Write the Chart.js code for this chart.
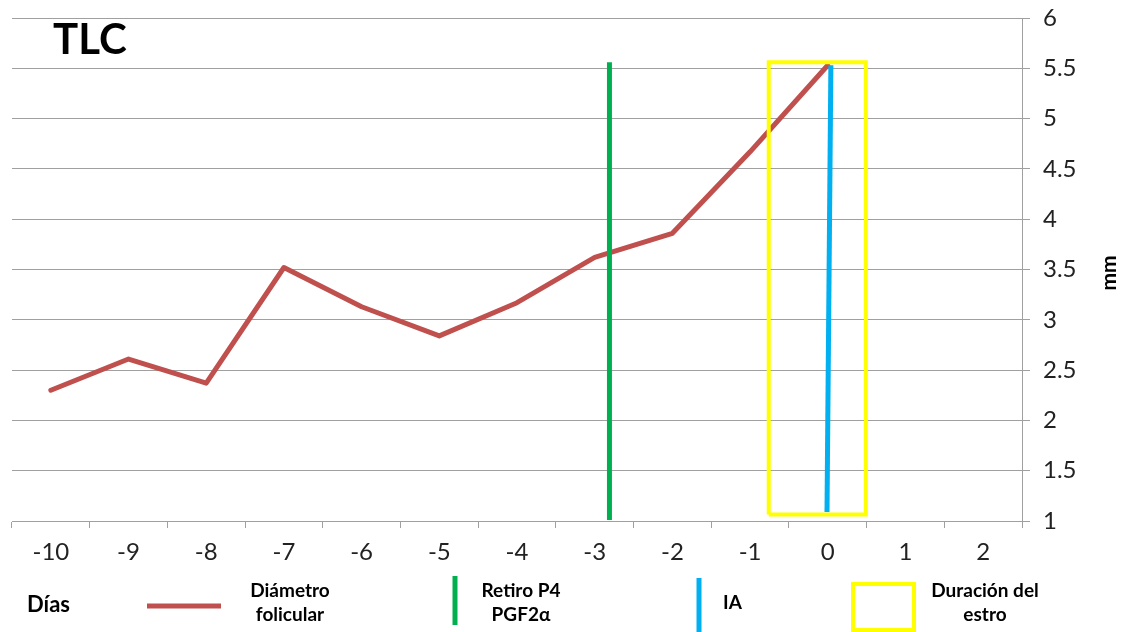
<!DOCTYPE html>
<html>
<head>
<meta charset="utf-8">
<script src="https://cdn.jsdelivr.net/npm/chart.js@4/dist/chart.umd.min.js"></script>
<style>
  html, body { margin: 0; padding: 0; background: #fff; }
  #wrap { width: 1124px; height: 632px; position: relative; }
</style>
</head>
<body>
<div id="wrap"><canvas id="grafico"></canvas></div>
<script>
// datos
const dias = ["-10", "-9", "-8", "-7", "-6", "-5", "-4", "-3", "-2", "-1", "0", "1", "2"];
const diametro = [2.30, 2.61, 2.37, 3.52, 3.13, 2.84, 3.17, 3.62, 3.86, 4.67, 5.53];

// marcas verticales (en dias / mm)
const retiroX = [-2.81, -2.81];
const retiroY = [1.01, 5.56];
const iaX = [-0.01, 0.04];
const iaY = [1.09, 5.53];
const estroX = [-0.76, 0.49, 0.49, -0.76, -0.76];
const estroY = [1.065, 1.065, 5.56, 5.56, 1.065];

const ticksY = [1, 1.5, 2, 2.5, 3, 3.5, 4, 4.5, 5, 5.5, 6];

const titulo = "TLC";
const tituloX = "Días";
const tituloY = "mm";
const leyenda = [["Diámetro", "folicular"], ["Retiro P4", "PGF2α"], ["IA"], ["Duración del", "estro"]];

const FUENTE = 'Lato, "Noto Sans", sans-serif';
const ROJO = "#C0504D";
const VERDE = "#00B050";
const AZUL = "#00B0F0";
const AMARILLO = "#FFFF00";
const GRIS = "#a0a0a0";

const puntos = (xs, ys) => xs.map((x, i) => ({ x: x, y: ys[i] }));

const extras = {
    id: "extras",
    afterDraw(chart) {
        const ctx = chart.ctx;
        ctx.save();
        ctx.fillStyle = "#000";

        // titulo
        ctx.font = "bold 42px " + FUENTE;
        ctx.textAlign = "left";
        ctx.textBaseline = "alphabetic";
        ctx.fillText(titulo, 53, 54);

        // titulo eje y (girado)
        ctx.save();
        ctx.translate(1109, 273);
        ctx.rotate(-Math.PI / 2);
        ctx.font = "bold 21px " + FUENTE;
        ctx.textAlign = "center";
        ctx.textBaseline = "middle";
        ctx.fillText(tituloY, 0, 0);
        ctx.restore();

        // titulo eje x
        ctx.font = "bold 22px " + FUENTE;
        ctx.textAlign = "left";
        ctx.fillText(tituloX, 27, 612);

        // leyenda
        ctx.lineCap = "butt";
        ctx.lineWidth = 5;
        ctx.strokeStyle = ROJO;
        ctx.beginPath(); ctx.moveTo(147, 606); ctx.lineTo(221, 606); ctx.stroke();
        ctx.strokeStyle = VERDE;
        ctx.beginPath(); ctx.moveTo(455, 576); ctx.lineTo(455, 625); ctx.stroke();
        ctx.strokeStyle = AZUL;
        ctx.beginPath(); ctx.moveTo(699, 578); ctx.lineTo(699, 632); ctx.stroke();
        ctx.lineWidth = 4;
        ctx.strokeStyle = AMARILLO;
        ctx.strokeRect(853, 584, 61, 46);

        ctx.font = "bold 19px " + FUENTE;
        ctx.textAlign = "center";
        const centros = [290, 521, 732, 985];
        leyenda.forEach((lineas, i) => {
            if (lineas.length === 1) {
                ctx.textAlign = "left";
                ctx.fillText(lineas[0], 723, 609);
                ctx.textAlign = "center";
            } else {
                ctx.fillText(lineas[0], centros[i], 597);
                ctx.fillText(lineas[1], centros[i], 621);
            }
        });
        ctx.restore();
    }
};

const ctx = document.getElementById("grafico").getContext("2d");
new Chart(ctx, {
    type: "line",
    data: {
        labels: dias,
        datasets: [
            {
                label: "Duración del estro",
                data: puntos(estroX, estroY),
                xAxisID: "x2",
                borderColor: AMARILLO,
                borderWidth: 4,
                pointRadius: 0,
                order: 1
            },
            {
                label: "IA",
                data: puntos(iaX, iaY),
                xAxisID: "x2",
                borderColor: AZUL,
                borderWidth: 5,
                pointRadius: 0,
                order: 2
            },
            {
                label: "Retiro P4 PGF2α",
                data: puntos(retiroX, retiroY),
                xAxisID: "x2",
                borderColor: VERDE,
                borderWidth: 5,
                pointRadius: 0,
                order: 3
            },
            {
                label: "Diámetro folicular",
                data: diametro,
                xAxisID: "x",
                borderColor: ROJO,
                borderWidth: 5,
                borderCapStyle: "round",
                borderJoinStyle: "round",
                pointRadius: 0,
                tension: 0,
                order: 4
            }
        ]
    },
    options: {
        responsive: true,
        maintainAspectRatio: false,
        animation: false,
        layout: { padding: { left: 12, top: 18, right: 0, bottom: 0 } },
        plugins: {
            legend: { display: false },
            tooltip: { enabled: false },
            title: { display: false }
        },
        scales: {
            x: {
                type: "category",
                position: "bottom",
                offset: true,
                grid: { display: true, drawOnChartArea: false, drawTicks: true, tickLength: 7, color: GRIS, offset: true },
                border: { display: true, color: GRIS, width: 1 },
                ticks: { font: { family: FUENTE, size: 24 }, color: "#222", padding: 10, maxRotation: 0, autoSkip: false },
                afterFit: (s) => { s.height = 111; s.paddingLeft = 0; s.paddingRight = 0; }
            },
            x2: {
                type: "linear",
                display: false,
                min: -10.5,
                max: 2.5
            },
            y: {
                type: "linear",
                position: "right",
                min: 1,
                max: 6,
                afterBuildTicks: (s) => { s.ticks = ticksY.map(v => ({ value: v })); },
                grid: { color: GRIS, tickLength: 8, drawTicks: true },
                border: { display: true, color: GRIS, width: 1 },
                ticks: { font: { family: FUENTE, size: 24 }, color: "#222", padding: 13, callback: (v) => String(v) },
                afterFit: (s) => { s.width = 102; s.paddingTop = 0; s.paddingBottom = 0; }
            }
        }
    },
    plugins: [extras]
});
</script>
</body>
</html>
